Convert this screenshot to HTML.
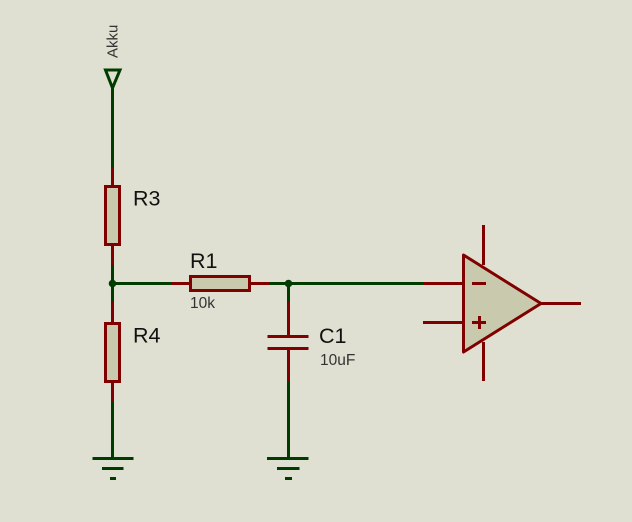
<!DOCTYPE html>
<html>
<head>
<meta charset="utf-8">
<style>
html,body{margin:0;padding:0;background:#dfe0d1;}
svg{display:block;}
text{font-family:"Liberation Sans",sans-serif;fill:#111;}
</style>
</head>
<body>
<svg width="632" height="522" viewBox="0 0 632 522" xmlns="http://www.w3.org/2000/svg">
<rect width="632" height="522" fill="#dfe0d1"/>
<g stroke="#003c00" stroke-width="3" fill="none">
  <path d="M112.500 88V167M112.500 265V302M112.500 402V458M112.500 283.500H171M269 283.500H423M288.500 283.500V302M288.500 382V458"/>
  <path d="M105.500 70H120L112.500 88Z"/>
  <path d="M92.500 458.500H133.500M102 468.500H123.500M110 478.500H116"/>
  <path d="M267 458.500H308.500M277 468.500H299.500M285 478.500H292"/>
</g>
<g fill="#003c00">
  <circle cx="112.500" cy="283.500" r="3.800"/>
  <circle cx="288.500" cy="283.500" r="3.800"/>
</g>
<g stroke="#800000" stroke-width="3" fill="none">
  <path d="M112.500 167V185M112.500 245V265M112.500 302V322M112.500 382V402"/>
  <path d="M171 283.500H190M250 283.500H269"/>
  <path d="M288.500 302V336M288.500 349V382M267.500 336.500H308.500M267.500 348.500H308.500"/>
  <path d="M423 283.500H463M423 322.500H463M483.500 225V265M483.500 342V381M541 303.500H581"/>
  <rect x="105.500" y="186.500" width="14" height="58" fill="#c9c9ae"/>
  <rect x="105.500" y="323.500" width="14" height="58" fill="#c9c9ae"/>
  <rect x="190.500" y="276.500" width="59" height="14" fill="#c9c9ae"/>
  <path d="M463.500 255L541 303.500L463.500 352Z" fill="#c9c9ae" stroke-linejoin="round"/>
  <path d="M472 283.500H486M472 322.500H486M479.500 316V329"/>
</g>
<text x="133" y="205.500" font-size="21.500">R3</text>
<text x="133" y="342.500" font-size="21.500">R4</text>
<text x="190" y="268" font-size="21.500">R1</text>
<text x="319" y="343" font-size="21.500">C1</text>
<text x="190" y="308" font-size="15.500" style="fill:#333">10k</text>
<text x="320" y="365" font-size="15.500" style="fill:#333">10uF</text>
<text transform="translate(117.500 58) rotate(-90)" font-size="15" style="fill:#333">Akku</text>
</svg>
</body>
</html>
